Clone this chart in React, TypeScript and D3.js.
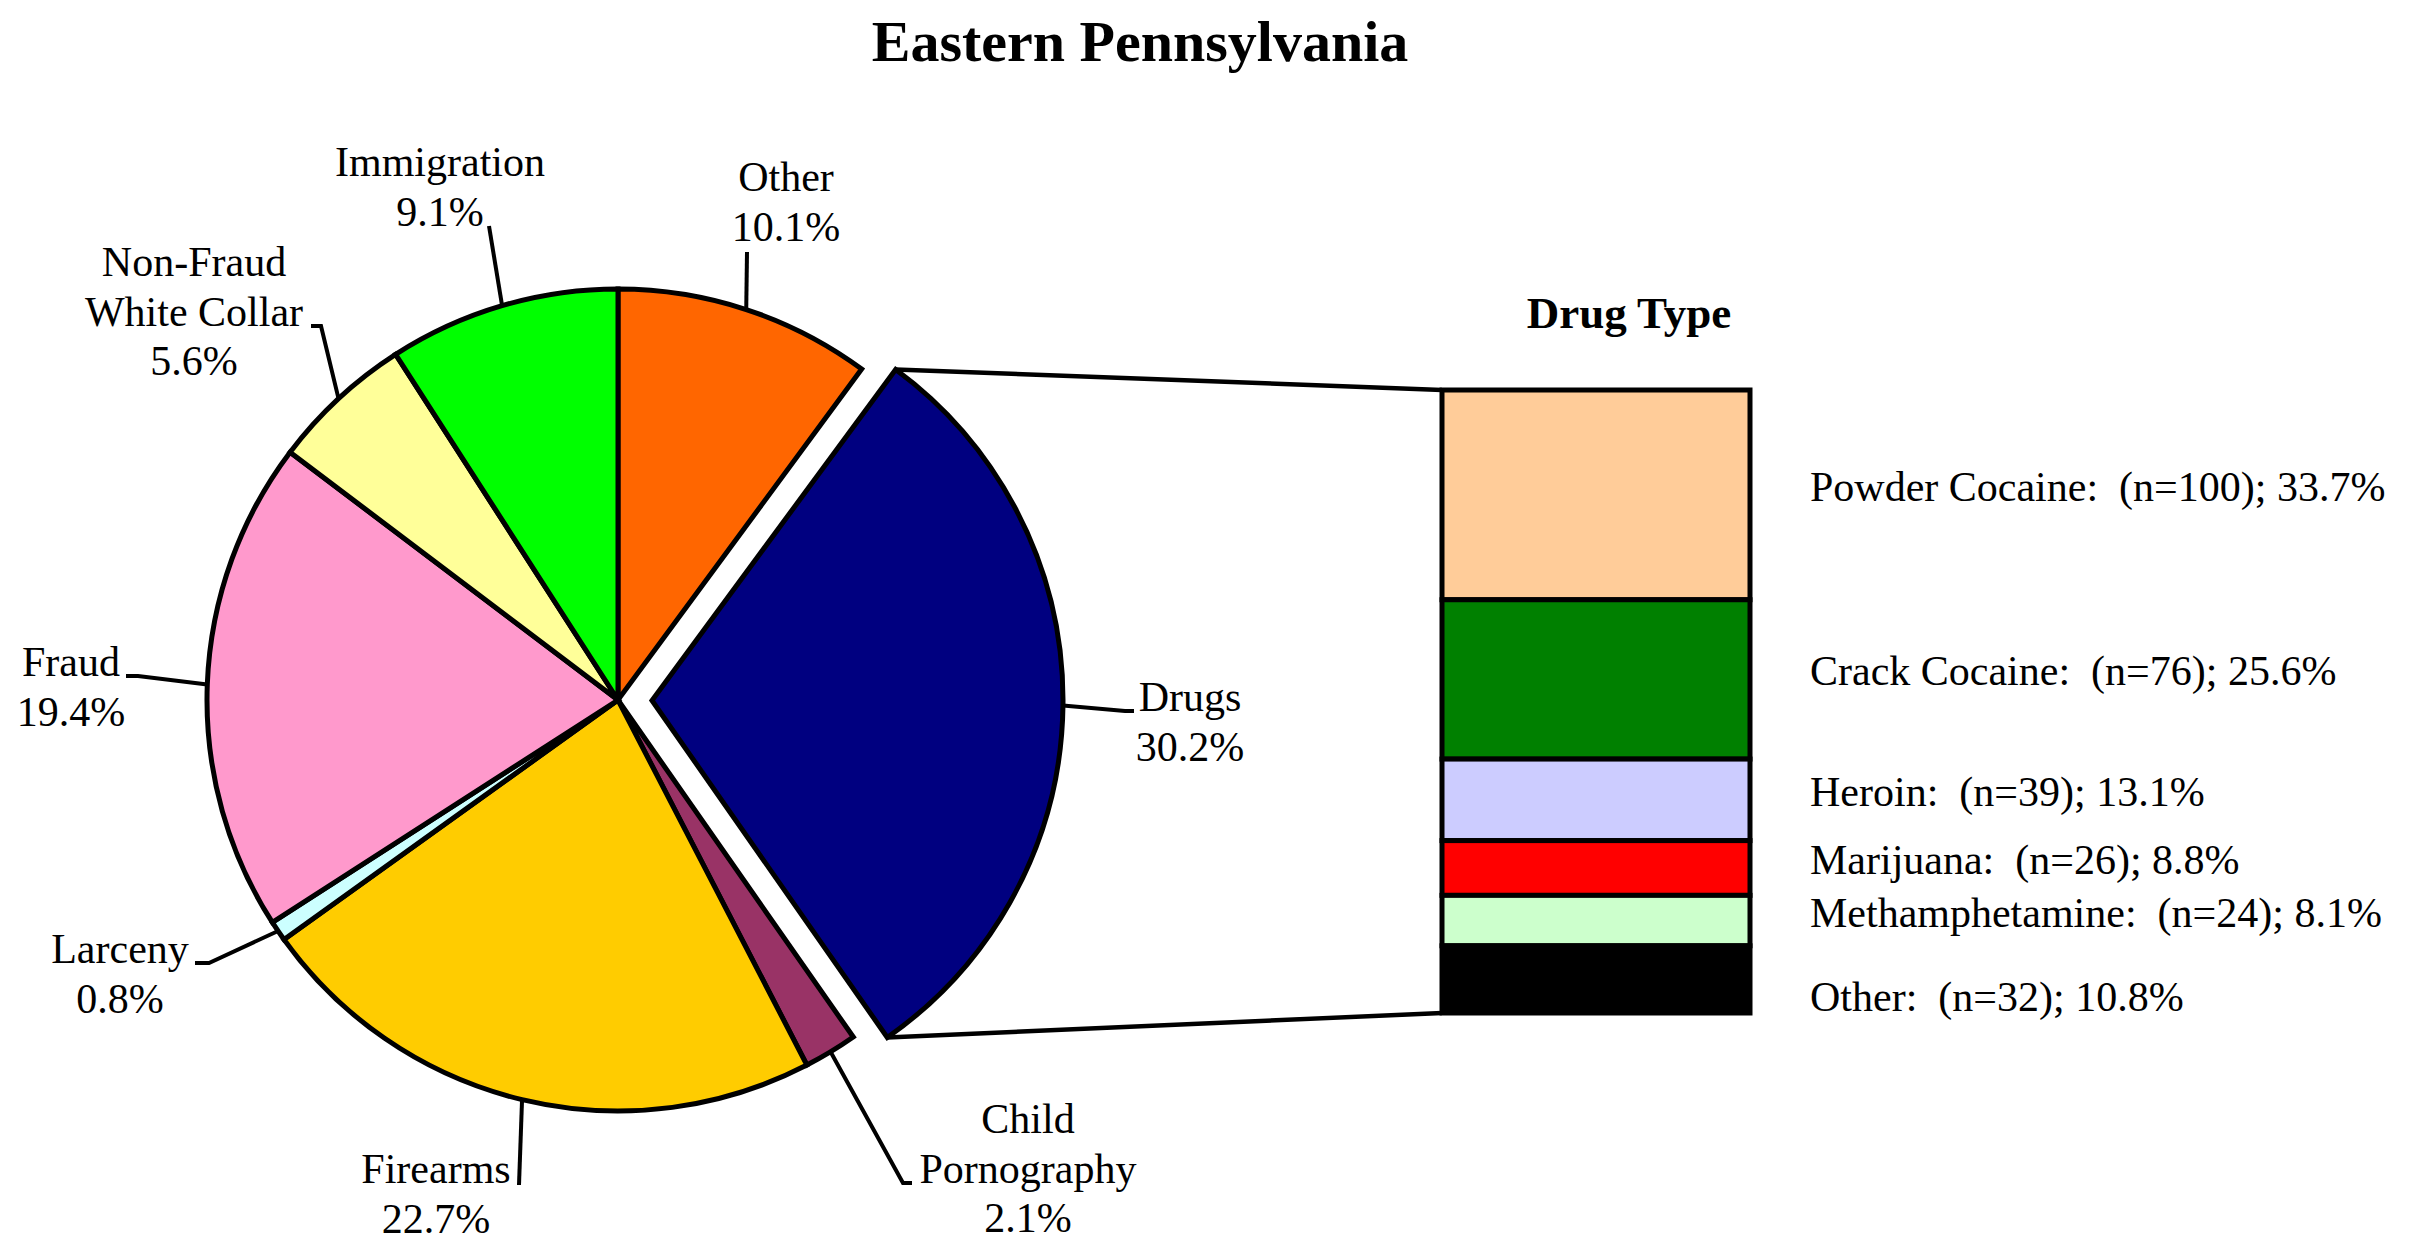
import React from 'react';
import * as d3 from 'd3';

// offense categories, clockwise from 12 o'clock
const categories = ['Other', 'Drugs', 'Child Pornography', 'Firearms', 'Larceny', 'Fraud', 'Non-Fraud White Collar', 'Immigration'];
const categoryLines = [['Other'], ['Drugs'], ['Child', 'Pornography'], ['Firearms'], ['Larceny'], ['Fraud'], ['Non-Fraud', 'White Collar'], ['Immigration']];
const shares = [10.1, 30.2, 2.1, 22.7, 0.8, 19.4, 5.6, 9.1];
const sliceColors = ['#FF6600', '#000080', '#993366', '#FFCC00', '#CCFFFF', '#FF99CC', '#FFFF99', '#00FF00'];

// drug type breakdown
const drugTypes = ['Powder Cocaine', 'Crack Cocaine', 'Heroin', 'Marijuana', 'Methamphetamine', 'Other'];
const drugCounts = [100, 76, 39, 26, 24, 32];
const drugShares = [33.7, 25.6, 13.1, 8.8, 8.1, 10.8];
const drugColors = ['#FFCC99', '#008000', '#CCCCFF', '#FF0000', '#CCFFCC', '#000000'];

const W = 2428;
const H = 1241;
const FONT = "'Liberation Serif', 'Times New Roman', Times, serif";

// label placement (text centre x, first baseline y, leader elbow points)
const labelLayout: Record<string, { x: number; y: number; elbow: [number, number][] }> = {
  'Other': { x: 786, y: 191, elbow: [[747, 252]] },
  'Drugs': { x: 1190, y: 711, elbow: [[1125, 711], [1134, 711]] },
  'Child Pornography': { x: 1028, y: 1133, elbow: [[903, 1183], [912, 1183]] },
  'Firearms': { x: 436, y: 1183, elbow: [[519, 1185]] },
  'Larceny': { x: 120, y: 963, elbow: [[209, 963], [195, 963]] },
  'Fraud': { x: 71, y: 676, elbow: [[138, 676], [126, 676]] },
  'Non-Fraud White Collar': { x: 194, y: 276, elbow: [[321, 326], [311, 326]] },
  'Immigration': { x: 440, y: 176, elbow: [[489, 226]] },
};

const App: React.FC = () => {
  const cx = 618;
  const cy = 700;
  const r = 411;
  const explode = 34;
  const lineH = 49.5;

  const arcs = d3.pie<number>().sort(null).value(d => d)(shares);
  const arcGen = d3.arc<d3.PieArcDatum<number>>().innerRadius(0).outerRadius(r);

  const offsetOf = (i: number) => {
    if (categories[i] !== 'Drugs') return [0, 0];
    const a = arcs[i];
    const mid = (a.startAngle + a.endAngle) / 2;
    return [Math.sin(mid) * explode, -Math.cos(mid) * explode];
  };

  const edgePoint = (i: number, angle: number) => {
    const [ox, oy] = offsetOf(i);
    return [cx + ox + Math.sin(angle) * r, cy + oy - Math.cos(angle) * r];
  };

  // bar of pie
  const barX0 = 1442;
  const barX1 = 1750;
  const cum = drugShares.reduce<number[]>((acc, v) => [...acc, acc[acc.length - 1] + v], [0]);
  const y = d3.scaleLinear().domain([0, d3.sum(drugShares)]).range([390, 1013]);

  const drugIdx = categories.indexOf('Drugs');
  const dArc = arcs[drugIdx];
  const pTop = edgePoint(drugIdx, dArc.startAngle);
  const pBot = edgePoint(drugIdx, dArc.endAngle);

  const line = d3.line();

  return (
    <div style={{ position: 'absolute', left: 0, top: 0 }}>
      <svg width={W} height={H} style={{ display: 'block', background: '#fff' }} fontFamily={FONT}>
        <text x={1140} y={61} textAnchor="middle" fontSize={58} fontWeight="bold">Eastern Pennsylvania</text>

        {/* pie slices */}
        <g transform={`translate(${cx},${cy})`}>
          {arcs.map((a, i) => {
            const [ox, oy] = offsetOf(i);
            return (
              <path key={categories[i]} d={arcGen(a) || ''} transform={`translate(${ox},${oy})`}
                fill={sliceColors[i]} stroke="#000" strokeWidth={5} strokeLinejoin="miter" />
            );
          })}
        </g>

        {/* leader lines and labels */}
        {arcs.map((a, i) => {
          const name = categories[i];
          const lay = labelLayout[name];
          const mid = (a.startAngle + a.endAngle) / 2;
          const p0 = edgePoint(i, mid) as [number, number];
          const pts: [number, number][] = [p0, ...lay.elbow];
          const lines = [...categoryLines[i], `${shares[i].toFixed(1)}%`];
          return (
            <g key={name}>
              <path d={line(pts) || ''} fill="none" stroke="#000" strokeWidth={4} />
              <text x={lay.x} y={lay.y} textAnchor="middle" fontSize={42}>
                {lines.map((t, k) => (
                  <tspan key={k} x={lay.x} y={lay.y + k * lineH}>{t}</tspan>
                ))}
              </text>
            </g>
          );
        })}

        {/* connectors from exploded slice to bar */}
        <path d={line([pTop as [number, number], [barX0, y(0)]]) || ''} stroke="#000" strokeWidth={4.5} fill="none" />
        <path d={line([pBot as [number, number], [barX0, y(d3.sum(drugShares))]]) || ''} stroke="#000" strokeWidth={4.5} fill="none" />

        <text x={1629} y={328} textAnchor="middle" fontSize={45} fontWeight="bold">Drug Type</text>

        {drugTypes.map((t, i) => {
          const y0 = y(cum[i]);
          const y1 = y(cum[i + 1]);
          const yc = (y0 + y1) / 2;
          const nudge = t === 'Other' ? 32 : 6;
          return (
            <g key={t}>
              <rect x={barX0} y={y0} width={barX1 - barX0} height={y1 - y0}
                fill={drugColors[i]} stroke="#000" strokeWidth={5} />
              <text x={1810} y={yc + nudge} fontSize={42} xmlSpace="preserve">
                {`${t}:  (n=${drugCounts[i]}); ${drugShares[i].toFixed(1)}%`}
              </text>
            </g>
          );
        })}
      </svg>
    </div>
  );
};

export default App;
